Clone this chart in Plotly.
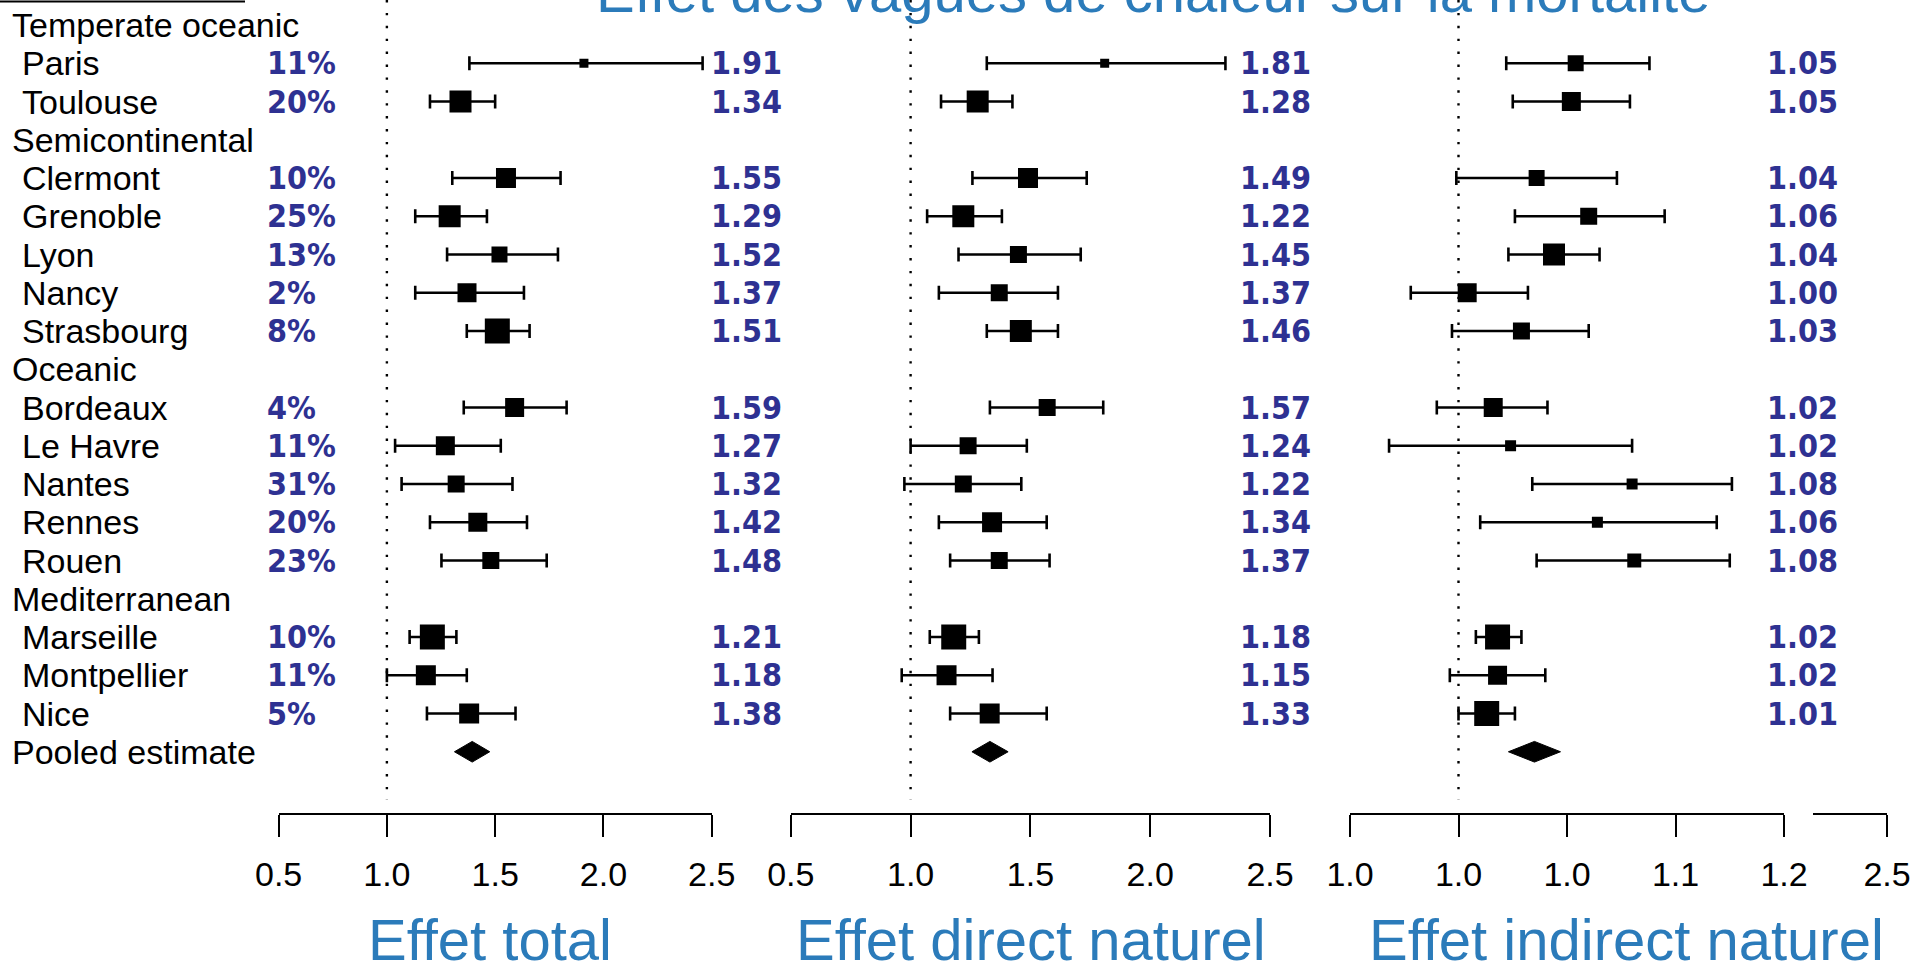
import plotly.graph_objects as go

# ---------------- data ----------------
groups = ["Temperate oceanic", "Semicontinental", "Oceanic", "Mediterranean"]
group_cities = [
    ["Paris", "Toulouse"],
    ["Clermont", "Grenoble", "Lyon", "Nancy", "Strasbourg"],
    ["Bordeaux", "Le Havre", "Nantes", "Rennes", "Rouen"],
    ["Marseille", "Montpellier", "Nice"],
]
share = ["11%", "20%", "10%", "25%", "13%", "2%", "8%", "4%", "11%", "31%",
         "20%", "23%", "10%", "11%", "5%"]
pooled_label = "Pooled estimate"

total_est = [1.91, 1.34, 1.55, 1.29, 1.52, 1.37, 1.51, 1.59, 1.27, 1.32, 1.42, 1.48, 1.21, 1.18, 1.38]
total_lo = [1.381, 1.199, 1.302, 1.131, 1.278, 1.131, 1.369, 1.355, 1.038, 1.068, 1.199, 1.252, 1.105, 1.000, 1.185]
total_hi = [2.458, 1.500, 1.802, 1.462, 1.790, 1.633, 1.659, 1.830, 1.526, 1.580, 1.647, 1.738, 1.321, 1.369, 1.594]
total_weight = [9, 22, 20, 22, 16, 19, 25, 19, 19, 17, 19, 17, 25, 20, 20]
total_pooled = [1.394, 1.312, 1.475]   # estimate, lower, upper

direct_est = [1.81, 1.28, 1.49, 1.22, 1.45, 1.37, 1.46, 1.57, 1.24, 1.22, 1.34, 1.37, 1.18, 1.15, 1.33]
direct_lo = [1.318, 1.127, 1.258, 1.069, 1.200, 1.118, 1.318, 1.331, 1.000, 0.974, 1.118, 1.165, 1.080, 0.963, 1.165]
direct_hi = [2.314, 1.425, 1.735, 1.381, 1.710, 1.615, 1.615, 1.804, 1.485, 1.462, 1.568, 1.580, 1.285, 1.342, 1.568]
direct_weight = [9, 22, 20, 22, 17, 17, 22, 17, 17, 17, 20, 17, 25, 20, 20]
direct_pooled = [1.331, 1.256, 1.407]

indirect_est = [1.054, 1.052, 1.036, 1.060, 1.044, 1.004, 1.029, 1.016, 1.024, 1.080, 1.064, 1.081, 1.018, 1.018, 1.013]
indirect_lo = [1.022, 1.025, 0.999, 1.026, 1.023, 0.978, 0.997, 0.990, 0.968, 1.034, 1.010, 1.036, 1.008, 0.996, 1.000]
indirect_hi = [1.088, 1.079, 1.073, 1.095, 1.065, 1.032, 1.060, 1.041, 1.080, 1.126, 1.119, 1.125, 1.029, 1.040, 1.026]
indirect_weight = [16, 19, 16, 17, 22, 19, 17, 19, 11, 11, 11, 14, 25, 19, 25]
indirect_pooled = [1.035, 1.023, 1.047]

null_effect = 1.0

wide_ticks = [0.5, 1.0, 1.5, 2.0, 2.5]
wide_ticktext = ["0.5", "1.0", "1.5", "2.0", "2.5"]
narrow_ticks = [0.95, 1.00, 1.05, 1.10, 1.15]
narrow_ticktext = ["1.0", "1.0", "1.0", "1.1", "1.2"]
stub_ticks = [2.5]
stub_ticktext = ["2.5"]

main_title = "Effet des vagues de chaleur sur la mortalité"
panel_titles = ["Effet total", "Effet direct naturel", "Effet indirect naturel"]

# ---------------- layout helpers ----------------
W, H = 1915, 970
def px(p):
    return p / W
def py(p):
    return 1 - p / H

ROW0, ROWSTEP = 25.0, 38.25            # pixel of row 0 and spacing
AXIS_PX = 812.7                        # pixel of the x axis lines
y_top = (0 - ROW0) / ROWSTEP
y_bot = (AXIS_PX - ROW0) / ROWSTEP
dot_end = (800 - ROW0) / ROWSTEP

# row bookkeeping
rows_city, rows_header, cities = [], [], []
r = 0
for g, cs in zip(groups, group_cities):
    rows_header.append(r)
    r += 1
    for c in cs:
        cities.append(c)
        rows_city.append(r)
        r += 1
row_pooled = r

TXT_FONT = "Liberation Sans, Arial, sans-serif"
NUM_FONT = "DejaVu Sans Condensed, DejaVu Sans, Verdana, sans-serif"
BLUE_NUM = "#2E3192"
BLUE_TITLE = "#2B7BBA"

fig = go.Figure()

panels = [
    ("x", total_est, total_lo, total_hi, total_weight, total_pooled),
    ("x2", direct_est, direct_lo, direct_hi, direct_weight, direct_pooled),
    ("x3", indirect_est, indirect_lo, indirect_hi, indirect_weight, indirect_pooled),
]
DIAMOND_H = 0.27
for xa, est, lo, hi, wt, pooled in panels:
    fig.add_trace(go.Scatter(
        x=est, y=rows_city, xaxis=xa, yaxis="y", mode="markers",
        marker=dict(symbol="square", size=wt, color="black", opacity=1,
                    line=dict(width=0)),
        error_x=dict(type="data", symmetric=False,
                     array=[h - e for h, e in zip(hi, est)],
                     arrayminus=[e - l for e, l in zip(est, lo)],
                     width=7, thickness=2.6, color="black"),
        showlegend=False, hoverinfo="skip"))
    pe, pl, ph = pooled
    fig.add_trace(go.Scatter(
        x=[pl, pe, ph, pe, pl],
        y=[row_pooled, row_pooled - DIAMOND_H, row_pooled, row_pooled + DIAMOND_H, row_pooled],
        xaxis=xa, yaxis="y", mode="lines", fill="toself",
        fillcolor="black", line=dict(color="black", width=1),
        showlegend=False, hoverinfo="skip"))

# dummy trace for the stub axis
fig.add_trace(go.Scatter(x=[None], y=[None], xaxis="x4", yaxis="y",
                         showlegend=False, hoverinfo="skip"))

axis_common = dict(showline=True, linecolor="black", linewidth=2.2,
                   ticks="outside", ticklen=22, tickwidth=2.2, tickcolor="black",
                   showgrid=False, zeroline=False, anchor="y", fixedrange=True,
                   automargin=False,
                   tickfont=dict(family=TXT_FONT, size=34, color="black"),
                   ticklabelstandoff=8)

fig.update_layout(
    width=W, height=H, margin=dict(l=0, r=0, t=0, b=0, autoexpand=False),
    paper_bgcolor="white", plot_bgcolor="white",
    showlegend=False,
    yaxis=dict(domain=[py(AXIS_PX), 1], range=[y_bot, y_top], visible=False,
               automargin=False, showgrid=False, zeroline=False, fixedrange=True),
    xaxis=dict(domain=[px(278.6), px(711.7)], range=[0.5, 2.5],
               tickvals=wide_ticks, ticktext=wide_ticktext, **axis_common),
    xaxis2=dict(domain=[px(790.8), px(1270.0)], range=[0.5, 2.5],
                tickvals=wide_ticks, ticktext=wide_ticktext, **axis_common),
    xaxis3=dict(domain=[px(1350.0), px(1784.0)], range=[0.95, 1.15],
                tickvals=narrow_ticks, ticktext=narrow_ticktext, **axis_common),
    xaxis4=dict(domain=[px(1813.0), px(1887.0)], range=[2.2, 2.5],
                tickvals=stub_ticks, ticktext=stub_ticktext, **axis_common),
)

shapes = []
for xa in ["x", "x2", "x3"]:
    shapes.append(dict(type="line", xref=xa, yref="y", x0=null_effect, x1=null_effect,
                       y0=y_top, y1=dot_end,
                       line=dict(color="black", width=2.4, dash="2.4px,10.5px")))
shapes.append(dict(type="line", xref="paper", yref="paper", x0=0, x1=px(245),
                   y0=py(1.5), y1=py(1.5), line=dict(color="black", width=2.2)))
fig.update_layout(shapes=shapes)

ann = []
def label(text, x, y, anchor="left", size=34, color="black", family=TXT_FONT, yref="y", bold=False):
    ann.append(dict(text=("<b>%s</b>" % text) if bold else text, x=x, y=y, xref="paper", yref=yref,
                    xanchor=anchor, yanchor="middle", showarrow=False,
                    font=dict(family=family, size=size, color=color)))

for g, rr in zip(groups, rows_header):
    label(g, px(10), rr)
for c, rr in zip(cities, rows_city):
    label(c, px(20), rr)
label(pooled_label, px(10), row_pooled)
for s, rr in zip(share, rows_city):
    label(s, px(265), rr, size=32, color=BLUE_NUM, family=NUM_FONT, bold=True)
for est, xr in [(total_est, 784), (direct_est, 1313), (indirect_est, 1840)]:
    for v, rr in zip(est, rows_city):
        label("%.2f" % v, px(xr), rr, anchor="right", size=32, color=BLUE_NUM,
              family=NUM_FONT, bold=True)

for t, xc in zip(panel_titles, [490, 1031, 1626]):
    label(t, px(xc), py(939), anchor="center", size=58, color=BLUE_TITLE, yref="paper")
label(main_title, px(1153), py(-9), anchor="center", size=58, color=BLUE_TITLE, yref="paper")

fig.update_layout(annotations=ann)
fig.write_html("out.html")
